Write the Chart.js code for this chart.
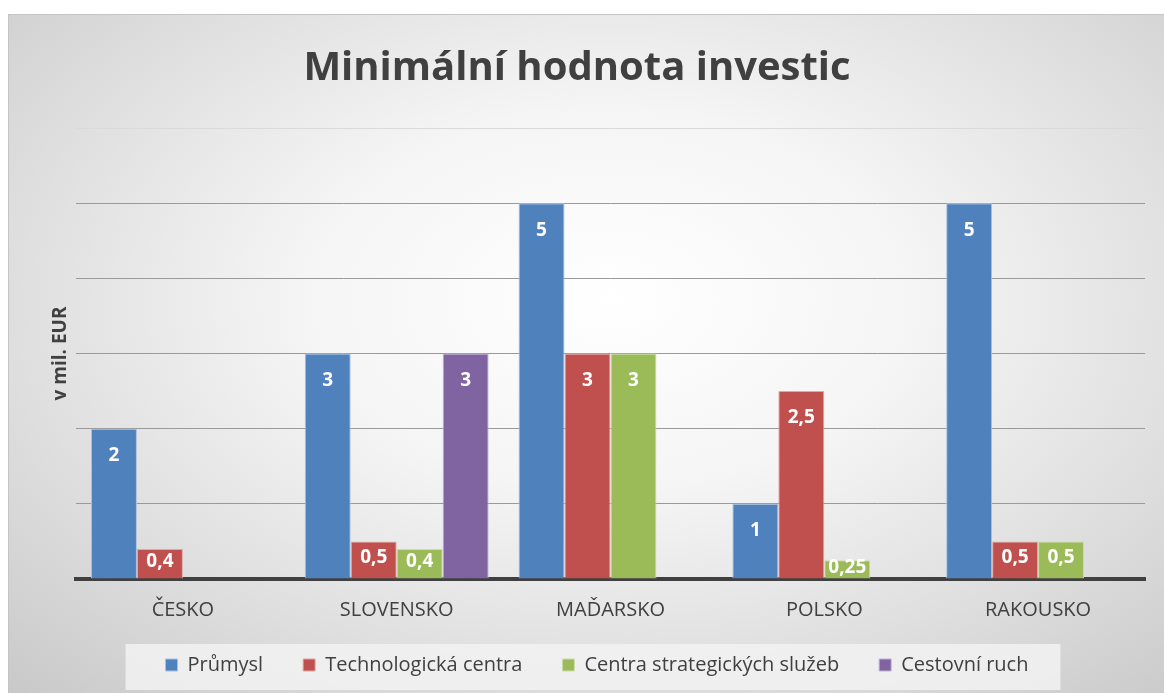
<!DOCTYPE html>
<html>
<head>
<meta charset="utf-8">
<script src="https://cdn.jsdelivr.net/npm/chart.js@4"></script>
<style>
  html, body { margin: 0; padding: 0; background: #fff; }
  #box {
    position: absolute; left: 8px; top: 14px; width: 1155px; height: 678px;
    border-top: 1px solid #c4c4c4; border-left: 1px solid #c4c4c4;
    background: radial-gradient(ellipse 75% 80% at 52% 42%, #ffffff 0%, #f5f5f5 35%, #dedede 70%, #c9c9c9 100%);
  }
</style>
</head>
<body>
<div id="box"><canvas id="chart" width="1155" height="678"></canvas></div>
<script>
// data
const zeme = ['ČESKO', 'SLOVENSKO', 'MAĎARSKO', 'POLSKO', 'RAKOUSKO'];
const prumysl = [2, 3, 5, 1, 5];
const techCentra = [0.4, 0.5, 3, 2.5, 0.5];
const sluzby = [null, 0.4, 3, 0.25, 0.5];
const cestovniRuch = [null, 3, null, null, null];

const FONT = '"Open Sans", "Noto Sans", sans-serif';
const TEXT = '#404040';
const LEG_PAD = 40;

// popisky hodnot uvnitr sloupcu
const hodnotyPlugin = {
    id: 'hodnoty',
    afterDatasetsDraw(chart) {
        const ctx = chart.ctx;
        ctx.save();
        ctx.font = 'bold 19px ' + FONT;
        ctx.fillStyle = '#fff';
        ctx.textAlign = 'center';
        ctx.textBaseline = 'middle';
        chart.data.datasets.forEach((ds, i) => {
            chart.getDatasetMeta(i).data.forEach((bar, j) => {
                const v = ds.data[j];
                if (v == null) return;
                const y = Math.min(bar.y + 27, (bar.y + bar.base) / 2 - 2);
                ctx.fillText(String(v).replace('.', ','), bar.x, y);
            });
        });
        ctx.restore();
    }
};

// legenda trochu doprava + sede pozadi
const legendaPozadi = {
    id: 'legendaPozadi',
    afterUpdate(chart) {
        if (chart.legend) chart.legend.left += 40;
    },
    beforeDraw(chart) {
        const lg = chart.legend;
        if (!lg || !lg.lineWidths) return;
        const w = lg.lineWidths[0];
        const start = (lg.left + LEG_PAD + lg.right - w) / 2;
        const end = start + w - LEG_PAD;
        const cy = lg.top + LEG_PAD + 12;
        const ctx = chart.ctx;
        ctx.save();
        ctx.fillStyle = 'rgba(242,242,242,0.85)';
        ctx.fillRect(start - 40, cy - 23, end - start + 72, 46);
        ctx.restore();
    }
};

document.addEventListener('DOMContentLoaded', function () {
    new Chart(document.getElementById('chart'), {
        type: 'bar',
        data: {
            labels: zeme,
            datasets: [
                { label: 'Průmysl', data: prumysl, backgroundColor: '#4F81BD', borderColor: '#a9c1df' },
                { label: 'Technologická centra', data: techCentra, backgroundColor: '#C0504D', borderColor: '#dfa8a7' },
                { label: 'Centra strategických služeb', data: sluzby, backgroundColor: '#9BBB59', borderColor: '#cddcad' },
                { label: 'Cestovní ruch', data: cestovniRuch, backgroundColor: '#8064A2', borderColor: '#bfb1d0' }
            ]
        },
        options: {
            responsive: false,
            animation: false,
            datasets: {
                bar: { borderWidth: 1, categoryPercentage: 0.86, barPercentage: 1 }
            },
            layout: { padding: { left: 0, right: 19, top: 0, bottom: 8 } },
            plugins: {
                title: {
                    display: true,
                    text: 'Minimální hodnota investic',
                    color: TEXT,
                    font: { family: FONT, size: 40, weight: 'bold' },
                    padding: { top: 30, bottom: 35 }
                },
                legend: {
                    position: 'bottom',
                    labels: {
                        color: TEXT,
                        font: { family: FONT, size: 20 },
                        boxWidth: 12,
                        boxHeight: 12,
                        padding: LEG_PAD
                    }
                },
                tooltip: { enabled: false }
            },
            scales: {
                x: {
                    grid: { display: false },
                    border: { color: '#404040', width: 4 },
                    ticks: { color: TEXT, font: { family: FONT, size: 20 }, padding: 11 },
                    afterFit: function (scale) {
                        // legenda zasahuje pod popisky, popisky neorezavat
                        scale.height -= 18;
                        scale._computeLabelArea = function () { return undefined; };
                    }
                },
                y: {
                    min: 0,
                    max: 6,
                    ticks: { display: false, stepSize: 1 },
                    grid: {
                        drawTicks: false,
                        color: c => c.tick.value === 6 ? '#dadada' : (c.tick.value === 0 ? 'rgba(0,0,0,0)' : '#9a9a9a'),
                        lineWidth: 1
                    },
                    border: { display: false },
                    title: {
                        display: true,
                        text: 'v mil. EUR',
                        color: TEXT,
                        font: { family: FONT, size: 19, weight: 'bold' },
                        padding: { top: 40, bottom: 0 }
                    },
                    afterFit: function (scale) { scale.width = 67; }
                }
            }
        },
        plugins: [legendaPozadi, hodnotyPlugin]
    });
});
</script>
</body>
</html>
